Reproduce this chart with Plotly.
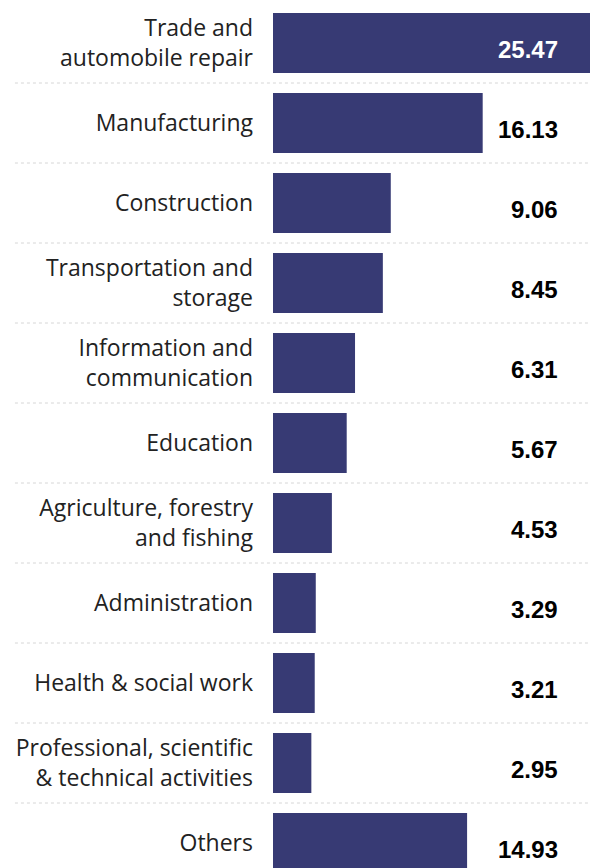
import plotly.graph_objects as go

categories = [
    "Trade and<br>automobile repair",
    "Manufacturing",
    "Construction",
    "Transportation and<br>storage",
    "Information and<br>communication",
    "Education",
    "Agriculture, forestry<br>and fishing",
    "Administration",
    "Health &amp; social work",
    "Professional, scientific<br>&amp; technical activities",
    "Others",
]
values = [25.47, 16.13, 9.06, 8.45, 6.31, 5.67, 4.53, 3.29, 3.21, 2.95, 14.93]
value_labels = ["25.47", "16.13", "9.06", "8.45", "6.31", "5.67", "4.53", "3.29", "3.21", "2.95", "14.93"]

BAR = "#373A74"
n = len(categories)
idx = list(range(n))

fig = go.Figure(go.Bar(
    x=values, y=idx, orientation="h",
    marker=dict(color=BAR, line=dict(width=0)),
    hoverinfo="skip",
))

annotations = []
for i, (v, t) in enumerate(zip(values, value_labels)):
    inside = v > 22
    annotations.append(dict(
        x=0.883, xref="paper", y=i, yref="y", text=t, showarrow=False,
        xanchor="right", yanchor="middle", yshift=-6,
        font=dict(family="Liberation Sans, Arial, sans-serif", size=24,
                  color="white" if inside else "black", weight="bold"),
    ))

shapes = []
for i in range(n):
    shapes.append(dict(
        type="line", xref="paper", yref="y",
        x0=-0.794, x1=1.0, y0=i + 0.5, y1=i + 0.5,
        line=dict(color="#d6d6d6", width=1, dash="3px,3px"),
        layer="below",
    ))

fig.update_layout(
    width=590, height=860,
    margin=dict(l=265, r=0, t=0, b=0),
    paper_bgcolor="white", plot_bgcolor="white",
    bargap=0.25, showlegend=False,
    annotations=annotations, shapes=shapes,
    xaxis=dict(range=[0, 25], visible=False, fixedrange=True),
    yaxis=dict(
        range=[10.3125, -0.4375], tickmode="array", tickvals=idx, ticktext=categories,
        showgrid=False, zeroline=False, showline=False, ticks="",
        ticklabelstandoff=19,
        tickfont=dict(family="Open Sans, sans-serif", size=23, color="#222222"),
        fixedrange=True,
    ),
)

fig.write_html("out.html")
